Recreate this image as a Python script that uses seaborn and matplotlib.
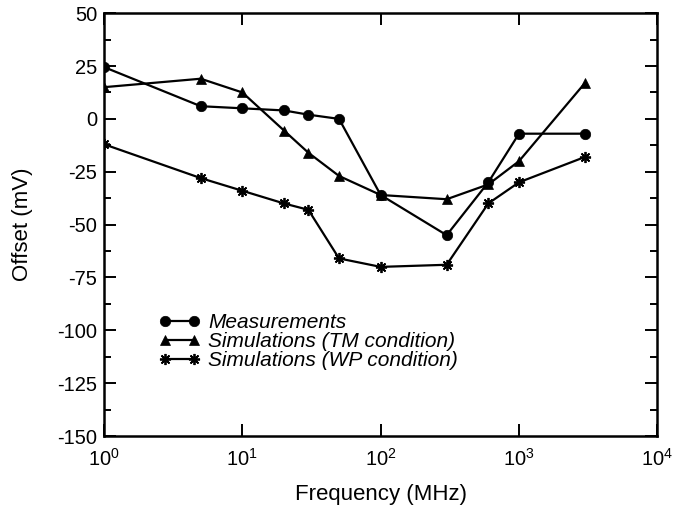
import numpy as np
import pandas as pd
import seaborn as sns
import matplotlib.pyplot as plt
from matplotlib.ticker import FixedLocator, NullLocator, MultipleLocator, FuncFormatter

# frequency points (MHz)
freq = [1, 5, 10, 20, 30, 50, 100, 300, 600, 1000, 3000]
measurements = [24.5, 6, 5, 4, 2, 0, -36, -55, -30, -7, -7]
sim_tm = [15, 19, 12.5, -5.5, -16, -27, -36, -38, -31, -20, 17]
sim_wp = [-12, -28, -34, -40, -43, -66, -70, -69, -40, -30, -18]

labels = ["Measurements", "Simulations (TM condition)", "Simulations (WP condition)"]
markers = ["o", "^", (8, 2, 0)]

sns.set_style("ticks", {"axes.edgecolor": "black", "text.color": "black",
                        "xtick.color": "black", "ytick.color": "black",
                        "axes.labelcolor": "black"})
plt.rcParams['font.family'] = ['Liberation Sans', 'DejaVu Sans']
plt.rcParams['axes.unicode_minus'] = False
plt.rcParams['mathtext.fontset'] = 'custom'
plt.rcParams['mathtext.rm'] = 'Liberation Sans'

fig = plt.figure(figsize=(6.89, 5.07), dpi=100)
ax = fig.add_axes([0.151, 0.140, 0.803, 0.834])

for vals, lab, mk in zip([measurements, sim_tm, sim_wp], labels, markers):
    df = pd.DataFrame({"freq": freq, "offset": vals})
    if mk == (8, 2, 0):
        ms, mew = 8, 1.3
    else:
        ms, mew = 7.5, 0.5
    sns.lineplot(data=df, x="freq", y="offset", ax=ax, color="black", lw=1.6,
                 marker=mk, markersize=ms, markeredgewidth=mew,
                 markeredgecolor="black", markerfacecolor="black", label=lab)

ax.set_xscale("log")
ax.set_xlim(1, 1e4)
ax.set_ylim(-150, 50)
ax.xaxis.set_major_locator(FixedLocator([1, 10, 100, 1000, 10000]))
ax.xaxis.set_minor_locator(NullLocator())
ax.xaxis.set_major_formatter(FuncFormatter(lambda v, p: r"$\mathregular{10^{%d}}$" % round(np.log10(v))))
ax.yaxis.set_major_locator(MultipleLocator(25))
ax.yaxis.set_minor_locator(MultipleLocator(12.5))
ax.tick_params(which="both", direction="in", top=True, right=True, labelsize=14.5,
               color="black", labelcolor="black")
ax.tick_params(axis="x", which="major", pad=8.5)
ax.tick_params(axis="y", which="major", pad=5)
ax.tick_params(which="major", length=8.5, width=1.4)
ax.tick_params(which="minor", length=5, width=1.4)
for s in ax.spines.values():
    s.set_linewidth(1.8)
    s.set_color("black")

ax.set_xlabel("Frequency (MHz)", fontsize=16, labelpad=10, color="black")
ax.set_ylabel("Offset (mV)", fontsize=16, labelpad=17, color="black")

leg = ax.legend(loc="upper left", bbox_to_anchor=(0.098, 0.29), frameon=False,
                numpoints=2, handlelength=2.0, handletextpad=0.4, labelspacing=0.0,
                borderaxespad=0, borderpad=0, labelcolor="black",
                prop={"style": "italic", "size": 15})

fig.savefig("out.png", dpi=100)
